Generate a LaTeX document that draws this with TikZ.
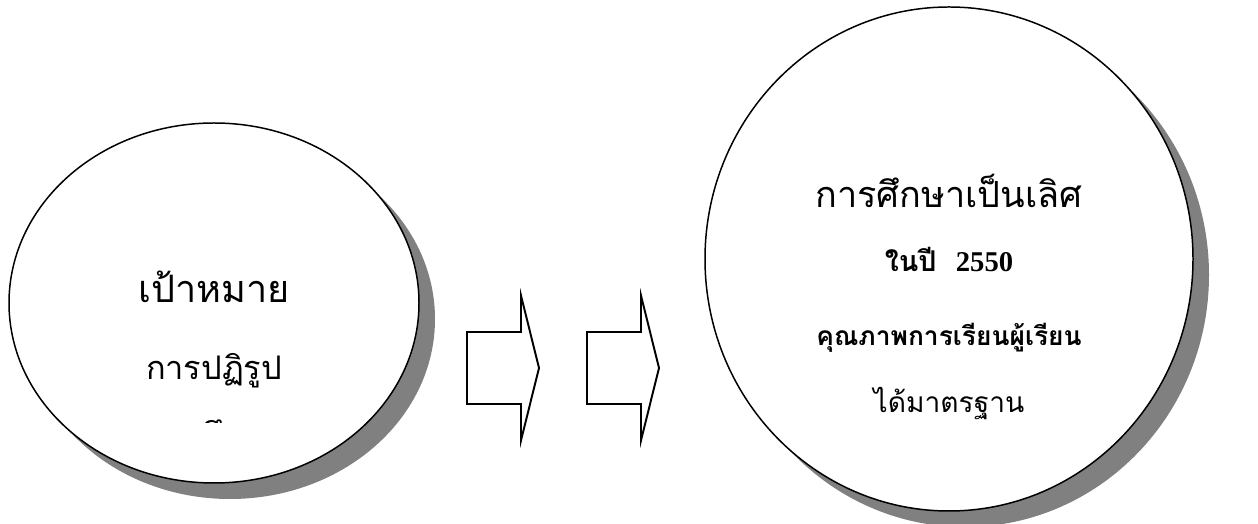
\documentclass[tikz,border=0pt]{standalone}
\usepackage{fontspec}
\newfontfamily\thaifont[Script=Thai]{Loma}
\newfontfamily\numfont{Liberation Serif}
\usepackage{tikz}
\usetikzlibrary{shapes.geometric, shadows, positioning}
\definecolor{shadowgray}{RGB}{128,128,128}
\tikzset{
  bubble/.style={ellipse,draw=black,line width=0.85pt,fill=white,inner sep=0pt,
    drop shadow={shadow xshift=0.32cm,shadow yshift=-0.32cm,fill=shadowgray,opacity=1}},
  bigtxt/.style={anchor=base,inner sep=0pt,font=\thaifont\fontsize{21.5}{26}\selectfont},
  boldtxt/.style={anchor=base,inner sep=0pt,font=\thaifont\bfseries\fontsize{15.5}{19}\selectfont},
  midtxt/.style={anchor=base,inner sep=0pt,font=\thaifont\fontsize{18.5}{22}\selectfont},
  blockarr/.style={draw=black,line width=1.1pt,line join=miter,fill=white}
}
\begin{document}
\begin{tikzpicture}
  \useasboundingbox (0,0) rectangle (25.16,10.48);

  %% Left bubble: the goal
  \node[bubble,minimum width=8.2cm,minimum height=7.2cm] (goal) at (4.28,4.42) {};
  \node[bigtxt] (goalA) at ([yshift=0cm]goal.center) {เป้าหมาย};
  \node[midtxt] (goalB) at ([yshift=-1.54cm]goal.center) {การปฏิรูป};
  \begin{scope}
    \clip ([xshift=-3cm,yshift=-2.40cm]goal.center) rectangle ([xshift=3cm,yshift=-1.9cm]goal.center);
    \node[midtxt] (goalC) at ([yshift=-2.87cm]goal.center) {การศึกษา};
  \end{scope}

  %% Block arrows
  \coordinate (arrA) at (9.34,3.12);
  \coordinate (arrB) at (11.74,3.12);
  \draw[blockarr] (arrA) ++(0,0.72) -- ++(1.08,0) -- ++(0,0.73) -- ++(0.36,-1.45)
    -- ++(-0.36,-1.45) -- ++(0,0.73) -- ++(-1.08,0) -- cycle;
  \draw[blockarr] (arrB) ++(0,0.72) -- ++(1.08,0) -- ++(0,0.73) -- ++(0.36,-1.45)
    -- ++(-0.36,-1.45) -- ++(0,0.73) -- ++(-1.08,0) -- cycle;

  %% Right bubble: the result
  \node[bubble,minimum width=9.76cm,minimum height=10.08cm] (result) at (18.98,5.30) {};
  \node[bigtxt,font=\thaifont\fontsize{20.5}{25}\selectfont] (resA) at ([yshift=1.02cm]result.center) {การศึกษาเป็นเลิศ};
  \node[boldtxt,font=\thaifont\bfseries\fontsize{16.3}{20}\selectfont] (resB) at ([yshift=-0.26cm]result.center) {ในปี\ \ {\numfont 2550}};
  \node[boldtxt,font=\thaifont\bfseries\fontsize{15}{18}\selectfont] (resC) at ([yshift=-1.74cm]result.center) {คุณภาพการเรียนผู้เรียน};
  \node[midtxt,font=\thaifont\fontsize{16}{20}\selectfont] (resD) at ([yshift=-3.08cm]result.center) {ได้มาตรฐาน};
\end{tikzpicture}
\end{document}
